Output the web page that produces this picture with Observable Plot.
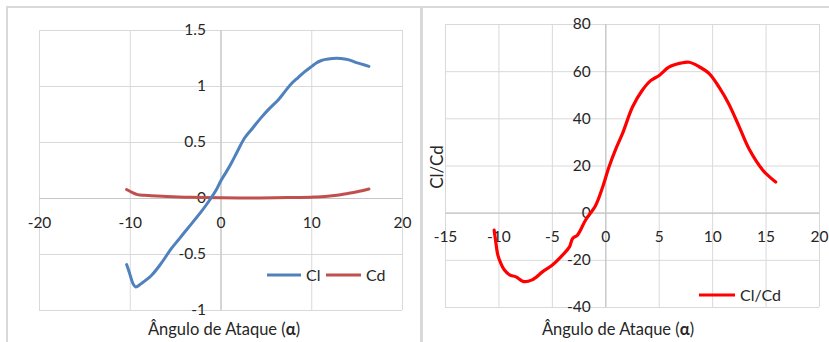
<!DOCTYPE html>
<html>
<head>
<meta charset="utf-8">
<script src="https://cdn.jsdelivr.net/npm/d3@7"></script>
<script src="https://cdn.jsdelivr.net/npm/@observablehq/plot@0.6"></script>
<style>
  body { margin: 0; background: #fff; }
  #wrap { position: relative; width: 829px; height: 342px; overflow: hidden; background: #fff; font-family: Lato, "Open Sans", sans-serif; }
  .bar { position: absolute; background: #d9d9d9; }
  .chart { position: absolute; top: 0; }
</style>
</head>
<body>
<div id="wrap">
  <div class="bar" style="left:6px;top:6px;width:823px;height:2px;"></div>
  <div class="bar" style="left:6px;top:6px;width:2px;height:336px;"></div>
  <div class="bar" style="left:420px;top:6px;width:3px;height:336px;"></div>
  <div id="c1" class="chart" style="left:0px;"></div>
  <div id="c2" class="chart" style="left:422px;"></div>
</div>
<script>
// ---- Data: left chart (Cl and Cd vs angle of attack) ----
const clAlpha = [-10.4,-10.1,-9.7,-9.4,-8.8,-7.7,-6.6,-5.5,-4.6,-3.7,-2.2,-1.3,-0.5,0,0.6,1.1,1.8,2.6,3.5,4.4,5.3,6.3,7.0,7.7,8.5,9.2,10.0,10.5,11.0,11.4,12.3,13.2,14.0,14.7,15.5,16.3];
const clValues = [-0.59,-0.66,-0.76,-0.79,-0.76,-0.69,-0.58,-0.45,-0.36,-0.27,-0.12,-0.02,0.08,0.16,0.24,0.31,0.42,0.54,0.63,0.72,0.80,0.88,0.95,1.02,1.08,1.13,1.18,1.21,1.23,1.24,1.25,1.25,1.24,1.22,1.20,1.18];
const cdAlpha = [-10.4,-9.8,-9.2,-8.5,-7.7,-6,-4,-2,0,2,4,6,8,10,11,12,13,14,15,16.3];
const cdValues = [0.08,0.055,0.035,0.028,0.025,0.018,0.012,0.008,0.006,0.005,0.005,0.006,0.009,0.012,0.015,0.022,0.032,0.045,0.06,0.085];
const leftXTicks = [-20,-10,0,10,20];
const leftYTicks = [-1,-0.5,0,0.5,1,1.5];

// ---- Data: right chart (Cl/Cd vs angle of attack) ----
const ratioAlpha = [-10.45,-10.3,-10.1,-9.8,-9.5,-9.0,-8.4,-7.7,-6.9,-5.9,-5.0,-4.05,-3.4,-3.1,-2.65,-1.9,-0.94,-0.3,0.3,0.94,1.56,2.5,3.4,4.2,5.0,5.9,7.0,7.8,8.7,9.7,10.6,11.5,12.5,13.4,14.7,15.3,15.9];
const ratioValues = [-7.2,-12,-17.8,-21.5,-24,-26.2,-27,-29,-28.3,-24.8,-22,-17.8,-14.3,-10.7,-9.3,-3,3.4,11,19.6,27.3,33.7,45,52,56.2,58.4,61.9,63.6,64,62.2,59.1,53.4,46.4,36.5,27.3,18.2,15.5,13.2];
const rightXTicks = [-15,-10,-5,0,5,10,15,20];
const rightYTicks = [-40,-20,0,20,40,60,80];

const seriesNames = ["Cl", "Cd", "Cl/Cd"];
const xTitle = "Ângulo de Ataque (";
const yTitleRight = "Cl/Cd";

const GRID = "#d9d9d9";
const AXIS = "#c6c6c6";
const TXT = "#262626";
const FONT = "Lato, 'Open Sans', sans-serif";

const clData = clAlpha.map((a, i) => ({a, v: clValues[i]}));
const cdData = cdAlpha.map((a, i) => ({a, v: cdValues[i]}));
const ratioData = ratioAlpha.map((a, i) => ({a, v: ratioValues[i]}));

function addTitle(svg, cx, cy) {
  const t = d3.select(svg).append("text")
    .attr("x", cx).attr("y", cy)
    .attr("text-anchor", "middle")
    .attr("font-family", FONT).attr("font-size", 16.5).attr("fill", TXT);
  t.append("tspan").text(xTitle);
  t.append("tspan").attr("font-weight", "bold").text("α");
  t.append("tspan").text(")");
}
function addLegendItem(svg, x1, x2, y, color, label) {
  const g = d3.select(svg).append("g");
  g.append("line").attr("x1", x1).attr("x2", x2).attr("y1", y).attr("y2", y)
    .attr("stroke", color).attr("stroke-width", 3);
  g.append("text").attr("x", x2 + 5).attr("y", y).attr("dy", "0.35em")
    .attr("text-anchor", "start")
    .attr("font-family", FONT).attr("font-size", 16).attr("fill", TXT).text(label);
}

// ---- Left chart ----
const p1 = Plot.plot({
  width: 420, height: 342,
  marginLeft: 39, marginRight: 18, marginTop: 30, marginBottom: 32,
  style: {fontFamily: FONT, fontSize: "15px", background: "transparent", color: TXT},
  x: {domain: [-20, 20], axis: null},
  y: {domain: [-1, 1.5], axis: null},
  marks: [
    Plot.ruleX(leftXTicks, {stroke: GRID, strokeWidth: 1}),
    Plot.ruleY(leftYTicks, {stroke: GRID, strokeWidth: 1}),
    Plot.ruleX([0], {stroke: AXIS, strokeWidth: 1.2}),
    Plot.ruleY([0], {stroke: AXIS, strokeWidth: 1.2}),
    Plot.text(leftXTicks, {x: d => d, y: 0, dy: 25, text: d => String(d), fontSize: 15.5, fill: TXT}),
    Plot.text(leftYTicks, {x: 0, y: d => d, dx: -15, textAnchor: "end", text: d => String(d), fontSize: 15.5, fill: TXT}),
    Plot.line(cdData, {x: "a", y: "v", stroke: "#C0504D", strokeWidth: 3, curve: "catmull-rom"}),
    Plot.line(clData, {x: "a", y: "v", stroke: "#4F81BD", strokeWidth: 3, curve: "catmull-rom"})
  ]
});
document.getElementById("c1").appendChild(p1);
addTitle(p1, 224, 335);
addLegendItem(p1, 267, 301, 275, "#4F81BD", seriesNames[0]);
addLegendItem(p1, 326, 361, 275, "#C0504D", seriesNames[1]);

// ---- Right chart ----
const p2 = Plot.plot({
  width: 407, height: 342,
  marginLeft: 23, marginRight: 10, marginTop: 24, marginBottom: 35,
  style: {fontFamily: FONT, fontSize: "15px", background: "transparent", color: TXT},
  x: {domain: [-15, 20], axis: null},
  y: {domain: [-40, 80], axis: null},
  marks: [
    Plot.ruleX(rightXTicks, {stroke: GRID, strokeWidth: 1}),
    Plot.ruleY(rightYTicks, {stroke: GRID, strokeWidth: 1}),
    Plot.ruleX([0], {stroke: AXIS, strokeWidth: 1.2}),
    Plot.ruleY([0], {stroke: AXIS, strokeWidth: 1.2}),
    Plot.text(rightXTicks, {x: d => d, y: 0, dy: 24, text: d => String(d), fontSize: 15.5, fill: TXT}),
    Plot.text(rightYTicks, {x: 0, y: d => d, dx: -15, textAnchor: "end", text: d => String(d), fontSize: 15.5, fill: TXT}),
    Plot.line(ratioData, {x: "a", y: "v", stroke: "#FF0000", strokeWidth: 3.2, curve: "catmull-rom"})
  ]
});
document.getElementById("c2").appendChild(p2);
addTitle(p2, 196, 335);
addLegendItem(p2, 277, 313, 295, "#FF0000", seriesNames[2]);
d3.select(p2).append("text")
  .attr("transform", "translate(21,167) rotate(-90)")
  .attr("text-anchor", "middle")
  .attr("font-family", FONT).attr("font-size", 17).attr("fill", TXT)
  .text(yTitleRight);
</script>
</body>
</html>
